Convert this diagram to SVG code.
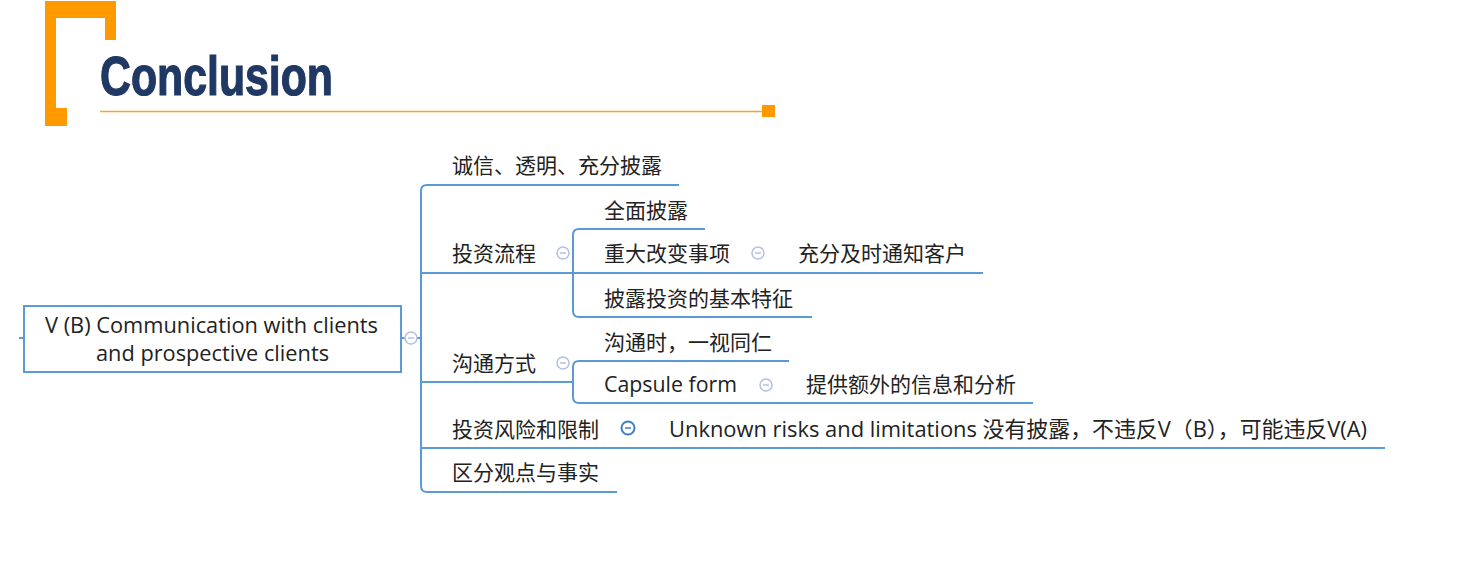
<svg xmlns="http://www.w3.org/2000/svg" width="1484" height="584" viewBox="0 0 1484 584">
<style>
.t{font-family:"Open Sans","Noto Sans","Noto Sans CJK SC",sans-serif;font-size:21.5px;fill:#222}
.c{font-family:"Noto Sans CJK SC","Noto Sans",sans-serif;font-size:21px;fill:#222}
.h{font-family:"Liberation Sans Narrow","Liberation Sans",sans-serif;font-weight:bold;font-size:56px;fill:#1f3864;stroke:#1f3864;stroke-width:1.2}
.ln{fill:none;stroke:#5b9bd5;stroke-width:2}
.col{fill:#fff;stroke:#b3c0e6;stroke-width:1.5}
.colm{stroke:#b3c0e6;stroke-width:1.5}
</style>
<rect width="1484" height="584" fill="#fff"/>
<g id="header">
<path d="M45 1 H116 V40 H105 V18 H56 V108 H67 V126 H45 Z" fill="#ff9900"/>
<text class="h" x="100" y="95" textLength="233" lengthAdjust="spacingAndGlyphs">Conclusion</text>
<line x1="100" y1="111.5" x2="764" y2="111.5" stroke="#f5a623" stroke-width="1.5"/>
<rect x="762" y="105" width="13" height="12" fill="#ff9900"/>
</g>
<g id="connectors">
<line class="ln" x1="19" y1="338" x2="24" y2="338"/>
<line class="ln" x1="401" y1="338" x2="405" y2="338"/>
<line class="ln" x1="417" y1="338" x2="421" y2="338"/>
<path class="ln" d="M679 185 H427 Q421 185 421 191 V486 Q421 492 427 492 H617"/>
<line class="ln" x1="421" y1="273" x2="983" y2="273"/>
<path class="ln" d="M705 229 H579 Q573 229 573 235 V311 Q573 317 579 317 H812"/>
<line class="ln" x1="421" y1="382" x2="573" y2="382"/>
<path class="ln" d="M789 361 H579 Q573 361 573 367 V397 Q573 403 579 403 H1033"/>
<line class="ln" x1="421" y1="448" x2="1385" y2="448"/>
</g>
<g id="root">
<rect x="24" y="306" width="377" height="66" fill="#fff" stroke="#5b9bd5" stroke-width="2"/>
<text class="t" x="45" y="333" textLength="333" lengthAdjust="spacingAndGlyphs">V (B) Communication with clients</text>
<text class="t" x="96" y="361" textLength="233" lengthAdjust="spacingAndGlyphs">and prospective clients</text>
<circle class="col" cx="411" cy="338" r="6"/><line class="colm" x1="408" y1="338" x2="414" y2="338"/>
</g>
<g id="n1"><text class="c" x="452" y="173">诚信、透明、充分披露</text></g>
<g id="n2"><text class="c" x="452" y="261">投资流程</text>
<circle class="col" cx="563" cy="253" r="6"/><line class="colm" x1="560" y1="253" x2="566" y2="253"/></g>
<g id="n2a"><text class="c" x="604" y="218">全面披露</text></g>
<g id="n2b"><text class="c" x="604" y="261">重大改变事项</text>
<circle class="col" cx="758" cy="253" r="6"/><line class="colm" x1="755" y1="253" x2="761" y2="253"/></g>
<g id="n2b1"><text class="c" x="798" y="261">充分及时通知客户</text></g>
<g id="n2c"><text class="c" x="604" y="306">披露投资的基本特征</text></g>
<g id="n3"><text class="c" x="452" y="371">沟通方式</text>
<circle class="col" cx="563" cy="363" r="6"/><line class="colm" x1="560" y1="363" x2="566" y2="363"/></g>
<g id="n3a"><text class="c" x="604" y="350">沟通时，一视同仁</text></g>
<g id="n3b"><text class="t" x="604" y="392" textLength="133" lengthAdjust="spacingAndGlyphs">Capsule form</text>
<circle class="col" cx="766" cy="385" r="6"/><line class="colm" x1="763" y1="385" x2="769" y2="385"/></g>
<g id="n3b1"><text class="c" x="806" y="392">提供额外的信息和分析</text></g>
<g id="n4"><text class="c" x="452" y="437">投资风险和限制</text>
<circle cx="628" cy="428" r="6.5" fill="#fff" stroke="#3f7fc6" stroke-width="2"/><line x1="625" y1="428" x2="631" y2="428" stroke="#3f7fc6" stroke-width="1.5"/></g>
<g id="n4a"><text class="t" x="669" y="437" textLength="698" lengthAdjust="spacingAndGlyphs">Unknown risks and limitations 没有披露，不违反V（B），可能违反V(A)</text></g>
<g id="n5"><text class="c" x="452" y="480">区分观点与事实</text></g>
</svg>
